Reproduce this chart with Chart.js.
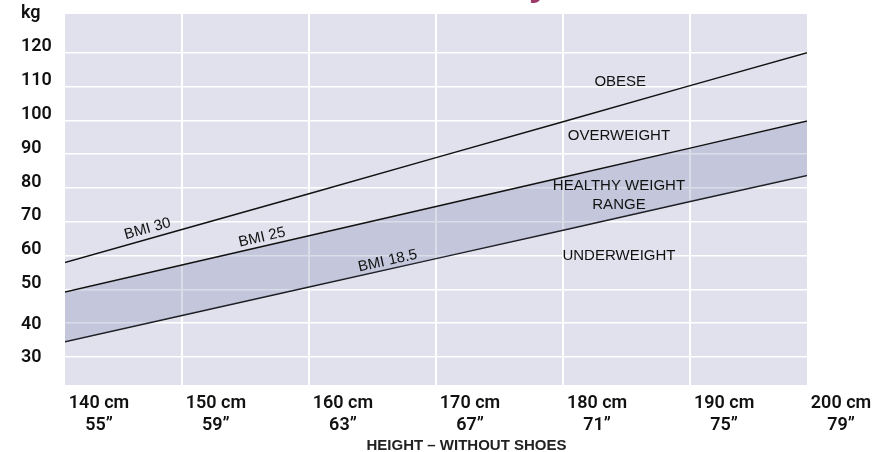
<!DOCTYPE html>
<html><head><meta charset="utf-8">
<script src="https://cdn.jsdelivr.net/npm/chart.js@4/dist/chart.umd.min.js"></script>
<style>
html,body{margin:0;padding:0;background:#fff;overflow:hidden}
#wrap{position:relative;width:885px;height:452px;overflow:hidden}
#c{position:absolute;left:0;top:-40px}
</style></head><body>
<div id="wrap"><canvas id="c" width="885" height="492"></canvas></div>
<script>
// ---- data ----
const titleText = 'What is healthy';
const heightsCm = [140, 150, 160, 170, 180, 190, 200];
const heightsIn = [55, 59, 63, 67, 71, 75, 79];
const bmi30  = [57.1, 67.7, 78.3, 89.0, 99.6, 110.3, 120.9];
const bmi25  = [48.5, 57.2, 65.9, 74.5, 83.2, 91.8, 100.5];
const bmi185 = [33.8, 42.3, 50.7, 59.1, 67.5, 76.0, 84.4];
const unitLabel = 'kg';
const axisCaption = 'HEIGHT \u2013 WITHOUT SHOES';
const captionAtCm = 172.4;
const zoneLabels = [
  {text: ['OBESE'], x: 184.5, y: 111.3},
  {text: ['OVERWEIGHT'], x: 184.4, y: 95.3},
  {text: ['HEALTHY WEIGHT', 'RANGE'], x: 184.4, y: 77.8},
  {text: ['UNDERWEIGHT'], x: 184.4, y: 59.9}
];
const lineLabels = [
  {text: 'BMI 30', series: 0, x: 147.3, y: 67.9},
  {text: 'BMI 25', series: 1, x: 156.3, y: 65.4},
  {text: 'BMI 18.5', series: 2, x: 166.2, y: 58.4}
];

const toXY = ys => heightsCm.map((h, i) => ({x: h, y: ys[i]}));
const INK = '#111';
const TICK_FONT = 'Roboto, "Liberation Sans", sans-serif';
const lineStyle = {borderColor: INK, borderWidth: 1.5, pointRadius: 0, tension: 0};

const plotBg = {
  id: 'plotBg',
  beforeDraw(chart) {
    const {ctx, chartArea: a} = chart;
    ctx.save();
    ctx.fillStyle = '#e1e1ee';
    ctx.fillRect(a.left, a.top, a.width, a.height);
    ctx.restore();
  }
};

const texts = {
  id: 'texts',
  afterDatasetsDraw(chart) {
    const {ctx, scales: {x, y}} = chart;
    ctx.save();
    ctx.fillStyle = INK;
    ctx.textAlign = 'center';
    ctx.textBaseline = 'middle';
    ctx.font = '15px "Liberation Sans", Arial, sans-serif';
    zoneLabels.forEach(z => {
      const px = x.getPixelForValue(z.x), py = y.getPixelForValue(z.y);
      const n = z.text.length;
      z.text.forEach((t, k) => ctx.fillText(t, px, py + (k - (n - 1) / 2) * 19));
    });
    lineLabels.forEach(l => {
      const pts = chart.getDatasetMeta(l.series).data;
      const p0 = pts[0], p1 = pts[pts.length - 1];
      const ang = Math.atan2(p1.y - p0.y, p1.x - p0.x);
      ctx.save();
      ctx.translate(x.getPixelForValue(l.x), y.getPixelForValue(l.y));
      ctx.rotate(ang);
      ctx.fillText(l.text, 0, 0);
      ctx.restore();
    });
    ctx.font = 'bold 15px "Liberation Sans", Arial, sans-serif';
    ctx.fillStyle = '#222';
    ctx.fillText(axisCaption, x.getPixelForValue(captionAtCm), chart.chartArea.bottom + 61);
    ctx.restore();
  }
};

new Chart(document.getElementById('c'), {
  type: 'line',
  data: {
    datasets: [
      Object.assign({label: 'BMI 30', data: toXY(bmi30), fill: false}, lineStyle),
      Object.assign({label: 'BMI 25', data: toXY(bmi25), fill: '+1', backgroundColor: 'rgba(120,130,170,0.27)'}, lineStyle),
      Object.assign({label: 'BMI 18.5', data: toXY(bmi185), fill: false}, lineStyle)
    ]
  },
  options: {
    responsive: false,
    animation: false,
    devicePixelRatio: 1,
    layout: {padding: {left: 21, right: 78, top: 0, bottom: 0}},
    plugins: {
      legend: {display: false},
      tooltip: {enabled: false},
      title: {
        display: true, text: titleText, color: '#9b3a66',
        font: {family: '"Liberation Sans", Arial, sans-serif', size: 37, weight: 'bold', lineHeight: 1.2},
        padding: {top: 2.5, bottom: 7.1}
      }
    },
    scales: {
      x: {
        type: 'linear', min: 140.8, max: 199.2,
        afterBuildTicks: s => { s.ticks = heightsCm.map(h => ({value: Math.min(Math.max(h, s.min), s.max)})); },
        afterFit: s => { s.height = 67; },
        grid: {
          color: c => (c.index === 0 || c.index === heightsCm.length - 1) ? 'rgba(0,0,0,0)' : '#ffffff',
          lineWidth: 2, drawTicks: false
        },
        border: {display: false},
        ticks: {
          autoSkip: false, maxRotation: 0, minRotation: 0, padding: 7, labelOffset: 34, color: INK,
          font: {family: TICK_FONT, size: 18, weight: '600', lineHeight: '22.5px'},
          callback: (v, i) => [heightsCm[i] + ' cm', heightsIn[i] + '\u201D']
        }
      },
      y: {
        type: 'linear', min: 21.7, max: 131.5,
        afterFit: s => { s.width = 44; },
        grid: {
          color: c => (c.tick && c.tick.value > 125) ? 'rgba(0,0,0,0)' : '#ffffff',
          lineWidth: 1.5, drawTicks: false
        },
        border: {display: false},
        ticks: {
          stepSize: 10, includeBounds: false, crossAlign: 'far', labelOffset: -6, padding: 0, color: INK,
          font: c => ({family: TICK_FONT, size: 18, weight: '600',
                       lineHeight: (c.tick && c.tick.value < 45) ? '14px' : 1.2}),
          callback: (v, i, t) => i === t.length - 1 ? unitLabel : (v < 45 ? ['', String(v)] : String(v))
        }
      }
    }
  },
  plugins: [plotBg, texts]
});
</script>
</body></html>
